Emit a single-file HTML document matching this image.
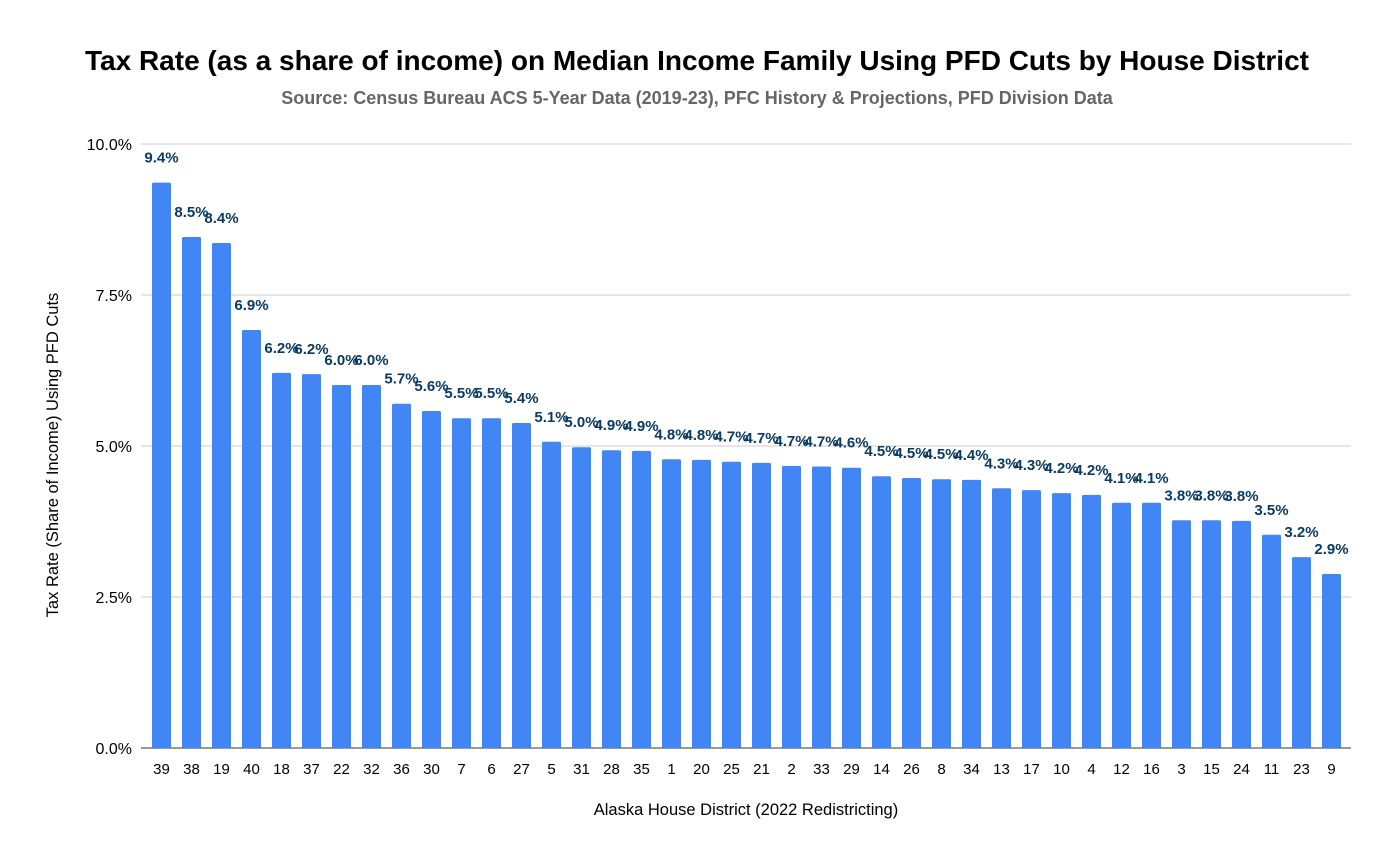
<!DOCTYPE html>
<html><head><meta charset="utf-8"><style>
body{margin:0;background:#fff}
svg text{font-family:"Liberation Sans",Arial,sans-serif}
</style></head><body>
<svg id="c" width="1394" height="862">
<text x="697" y="70" text-anchor="middle" font-size="28" font-weight="bold" fill="#000">Tax Rate (as a share of income) on Median Income Family Using PFD Cuts by House District</text>
<text x="697" y="104" text-anchor="middle" font-size="18" font-weight="bold" fill="#666">Source: Census Bureau ACS 5-Year Data (2019-23), PFC History &amp; Projections, PFD Division Data</text>
<text transform="translate(58,455) rotate(-90)" text-anchor="middle" font-size="16.5" fill="#000">Tax Rate (Share of Income) Using PFD Cuts</text>
<text x="746" y="815" text-anchor="middle" font-size="16.5" fill="#000">Alaska House District (2022 Redistricting)</text>
<g id="grid"></g><g id="bars"></g><g id="labels"></g>
</svg>
<script>
const categories=["39","38","19","40","18","37","22","32","36","30","7","6","27","5","31","28","35","1","20","25","21","2","33","29","14","26","8","34","13","17","10","4","12","16","3","15","24","11","23","9"];
const values=[9.36,8.46,8.36,6.92,6.21,6.19,6.01,6.01,5.70,5.58,5.46,5.46,5.38,5.07,4.98,4.93,4.92,4.78,4.77,4.74,4.72,4.67,4.66,4.64,4.50,4.47,4.45,4.44,4.30,4.27,4.22,4.19,4.06,4.06,3.77,3.77,3.76,3.53,3.16,2.88];
const yTicks=[0,2.5,5,7.5,10];
const yTickLabels=["0.0%","2.5%","5.0%","7.5%","10.0%"];
const NS="http://www.w3.org/2000/svg";
const y0=748,yTop=144,left=141,right=1351,bandStart=146.5,band=30,bw=19;
const y=v=>y0-(v/10)*(y0-yTop);
const x=i=>bandStart+i*band+band/2;
function mk(t,a,p){const e=document.createElementNS(NS,t);for(const k in a)e.setAttribute(k,a[k]);p.appendChild(e);return e;}
const grid=document.getElementById('grid'),bars=document.getElementById('bars'),labels=document.getElementById('labels');
yTicks.forEach((t,i)=>{
 const l=mk('line',{x1:left,x2:right,y1:y(t),y2:y(t),stroke:i==0?'#333':'#ccc','stroke-width':1},grid);
 
 
 const tx=mk('text',{x:132,y:y(t)+6,'text-anchor':'end','font-size':16,fill:'#000'},grid);
 tx.textContent=yTickLabels[i];
 
 
});
values.forEach((v,i)=>{
 const r=mk('rect',{x:x(i)-bw/2,y:y(v),width:bw,height:y0-y(v),fill:'#4285f4',rx:1.5},bars);
 
 
 const lb=mk('text',{x:x(i),y:y(v)-20,'text-anchor':'middle','font-size':15,'font-weight':'bold',fill:'#0b3a62'},labels);
 lb.textContent=v.toFixed(1)+'%';
 
 
 const c=mk('text',{x:x(i),y:774,'text-anchor':'middle','font-size':15,fill:'#000'},labels);
 c.textContent=categories[i];
 
 
});
</script>
</body></html>
